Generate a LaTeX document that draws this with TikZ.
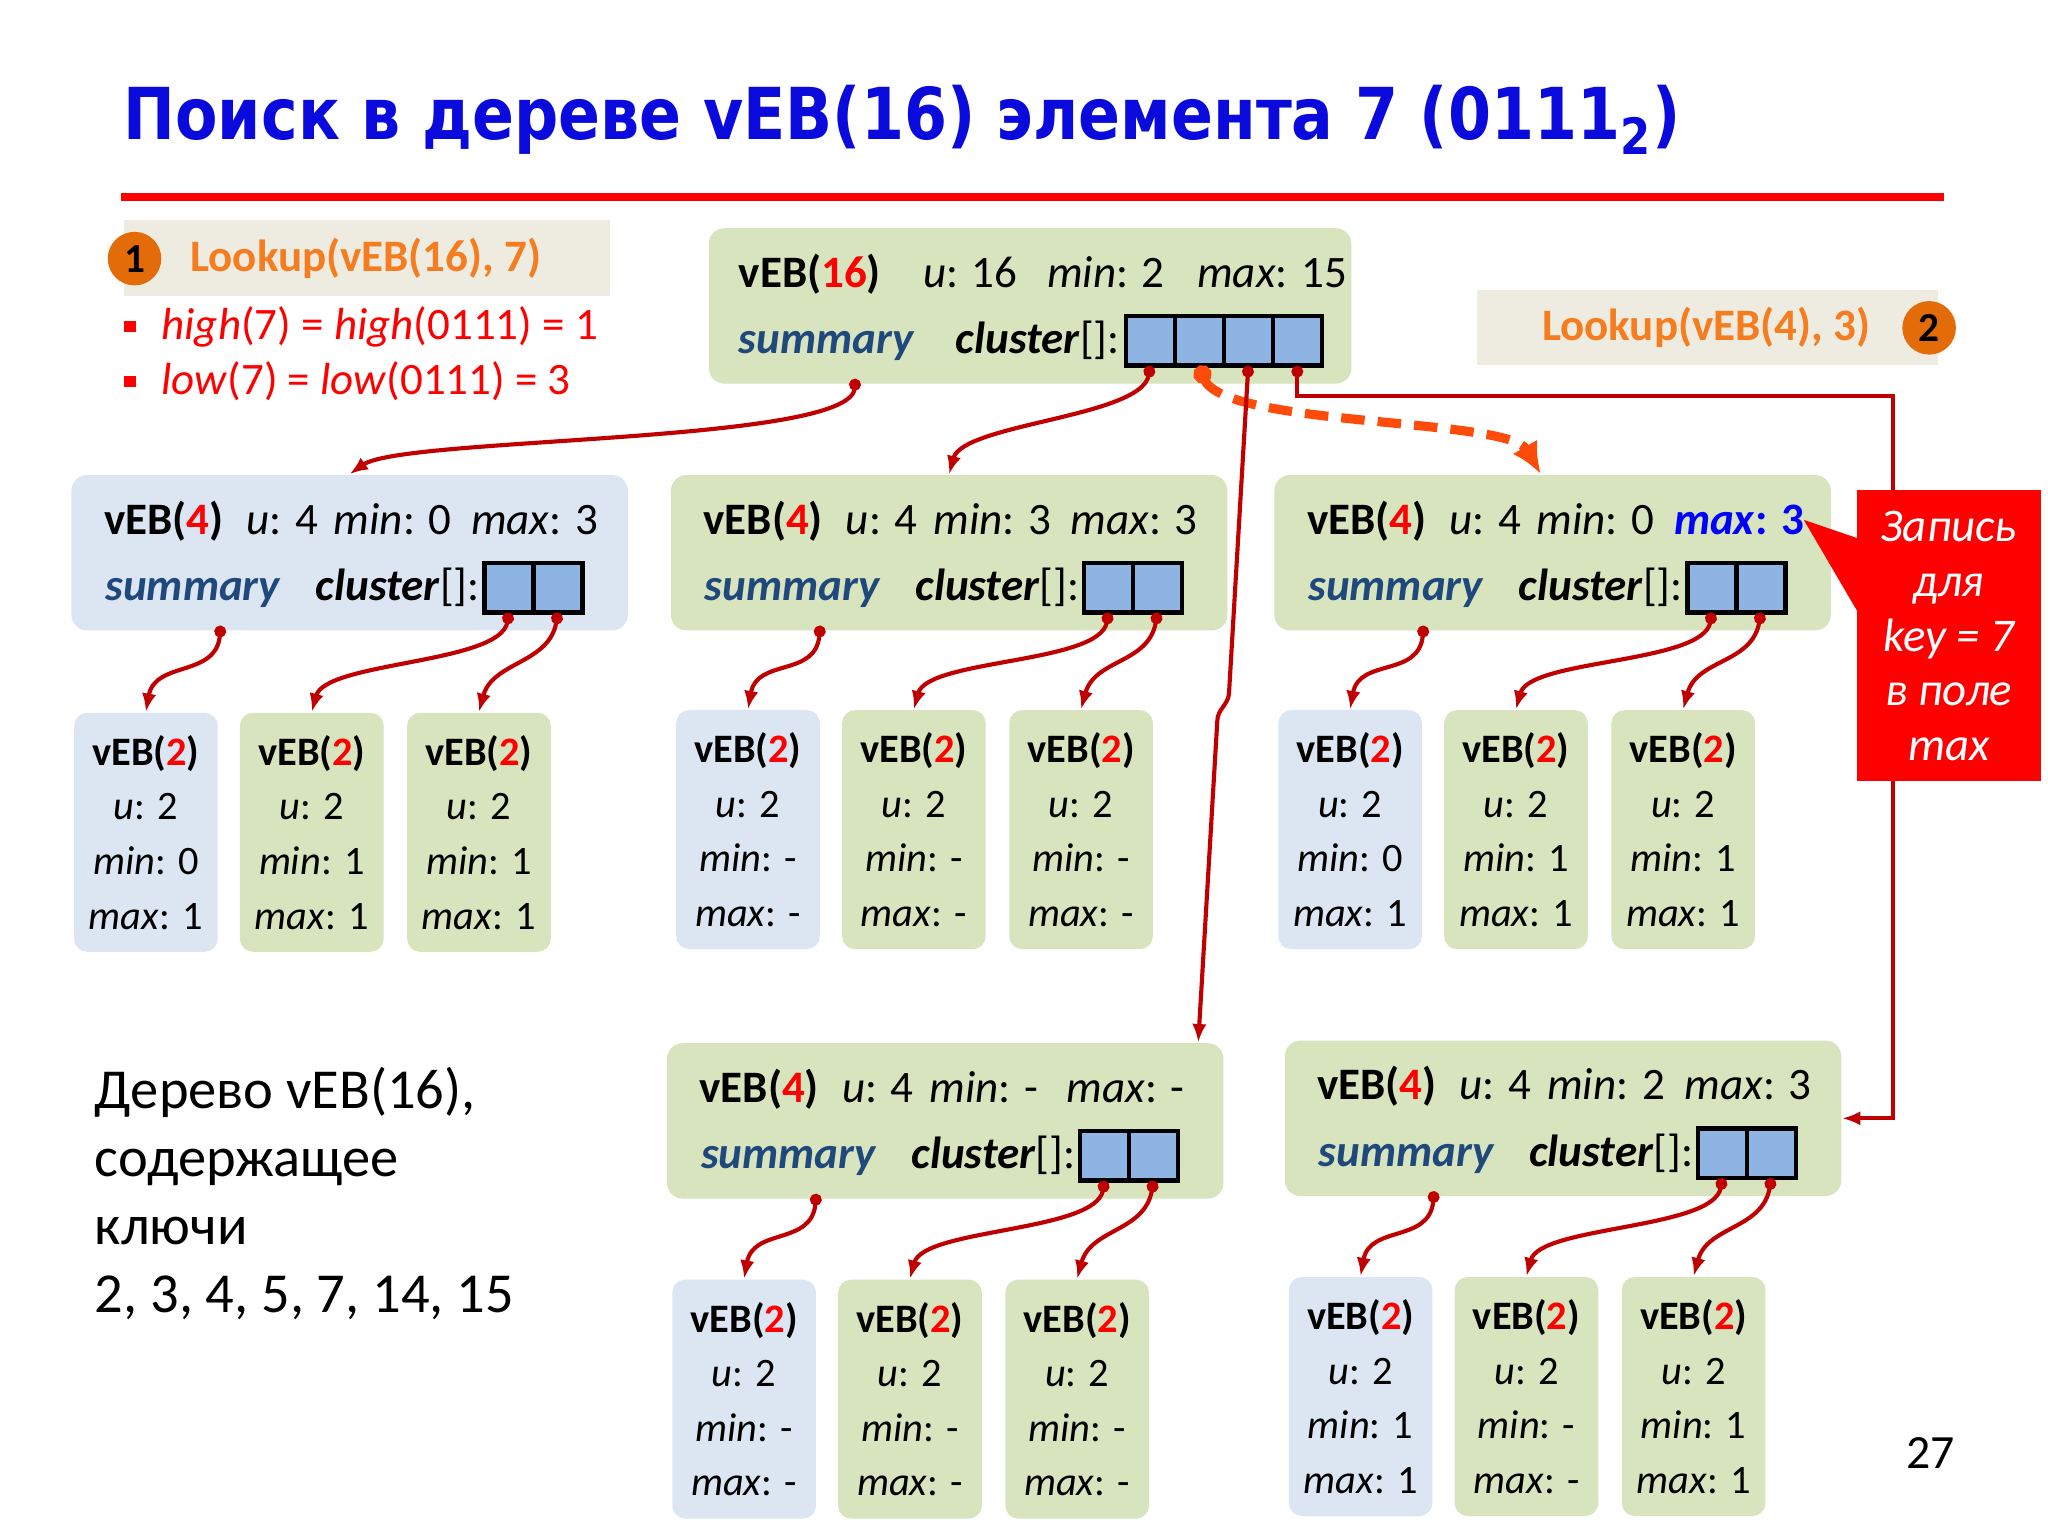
\documentclass[tikz,border=0pt]{standalone}
\usepackage{fontspec}
\usepackage{graphicx}
\setmainfont{Carlito}
\newfontfamily\titlefont{DejaVu Sans}
\usetikzlibrary{arrows.meta}
\definecolor{boxgreen}{HTML}{D7E4BD}
\definecolor{boxblue}{HTML}{DCE6F2}
\definecolor{cellblue}{HTML}{8DB4E2}
\definecolor{stepgray}{HTML}{EEECE1}
\definecolor{lookorange}{HTML}{F57C1F}
\definecolor{circorange}{HTML}{E36C09}
\definecolor{sumblue}{HTML}{1F497D}
\definecolor{numred}{HTML}{FF0000}
\definecolor{ptrred}{HTML}{C00000}
\definecolor{dashorange}{HTML}{FF4B0A}
\definecolor{titleblue}{HTML}{0A0ADC}
\definecolor{hlblue}{HTML}{0000FF}
% vEB(4) box: name, top left, fill, min, max field
\newcommand{\vebfour}[5]{%
  \node[bigbox,fill=#3] (#1) at (#2) {};
  \node[txt] (#1n) at ([shift={(25,-46)}]#1.north west) {\textbf{vEB(\textcolor{numred}{4})}};
  \node[txt] (#1u) at ([shift={(134,-46)}]#1.north west) {\textit{u}: 4};
  \node[txt] (#1mn) at ([shift={(201,-46)}]#1.north west) {\textit{min}: #4};
  \node[txt] (#1mx) at ([shift={(306,-46)}]#1.north west) {#5};
  \node[txt] (#1sum) at ([shift={(26,-97)}]#1.north west) {\textcolor{sumblue}{\textbf{\textit{summary}}}};
  \node[txt,anchor=base east] (#1cl) at ([shift={(314,-97)}]#1.north west) {\textbf{\textit{cluster}}[]:};
  \node[cell] (#1c1) at ([shift={(317,-68)}]#1.north west) {};
  \node[cell] (#1c2) at (#1c1.north east) {};
  \coordinate (#1s) at ([shift={(115,-116)}]#1.north west);
}
\begin{document}
\begin{tikzpicture}[x=0.1mm,y=0.1mm,
    txt/.style={anchor=base west,inner sep=0,font=\fontsize{9.8}{11.8}\selectfont},
    bigbox/.style={rectangle,rounded corners=1.2mm,anchor=north west,minimum width=42.6mm,minimum height=11.9mm,inner sep=0},
    smallbox/.style={rectangle,rounded corners=1mm,anchor=north west,minimum width=11mm,minimum height=18.3mm,inner sep=0,align=center,font=\fontsize{8.8}{11.9}\selectfont},
    cell/.style={draw=black,line width=1pt,fill=cellblue,minimum width=3.75mm,minimum height=3.8mm,inner sep=0,outer sep=0,anchor=north west},
    stepbox/.style={fill=stepgray,anchor=north west,inner sep=0},
    numcirc/.style={circle,fill=circorange,minimum size=4.1mm,inner sep=0,font=\bfseries\fontsize{9}{10}\selectfont},
    ptr/.style={draw=ptrred,line width=0.9pt,arrows={Circle[length=0.9mm]-Latex[length=1.4mm,width=1.1mm]}},
    ]
    \fill[white](0,0)rectangle(1568,-1176);
    % title
    \node[anchor=base west,inner sep=0,text=titleblue] (title) at (94,-107)
        {\resizebox{119.2mm}{\height}{\titlefont\bfseries\fontsize{15.6}{18}\selectfont Поиск в дереве vEB(16) элемента 7 (0111\textsubscript{2})}};
    \draw[numred,line width=1.8pt](93,-151)--(1488,-151);
    % step 1
    \node[stepbox,minimum width=37.2mm,minimum height=5.8mm] (s1) at (94,-168) {};
    \node[numcirc] (n1) at (103,-198) {1};
    \node[txt,text=lookorange,font=\bfseries\fontsize{9.8}{11.8}\selectfont] (l1) at (145,-208) {Lookup(vEB(16), 7)};
    \node[fill=numred,minimum size=0.9mm,inner sep=0] (q1) at (99.5,-250) {};
    \node[fill=numred,minimum size=0.9mm,inner sep=0] (q2) at (99.5,-292) {};
    \node[txt,text=numred] (hi) at (123,-260) {\textit{high}(7) = \textit{high}(0111) = 1};
    \node[txt,text=numred] (lo) at (123,-302) {\textit{low}(7) = \textit{low}(0111) = 3};
    % step 2
    \node[stepbox,minimum width=35.3mm,minimum height=5.8mm] (s2) at (1130,-221) {};
    \node[txt,text=lookorange,font=\bfseries\fontsize{9.8}{11.8}\selectfont] (l2) at (1180,-261) {Lookup(vEB(4), 3)};
    \node[numcirc] (n2) at (1477,-251) {2};
    % vEB(16)
    \node[bigbox,fill=boxgreen,minimum width=49.2mm] (top) at (542,-174) {};
    \node[txt] (tn) at ([shift={(23,-46)}]top.north west) {\textbf{vEB(\textcolor{numred}{16})}};
    \node[txt] (tu) at ([shift={(164,-46)}]top.north west) {\textit{u}: 16};
    \node[txt] (tmn) at ([shift={(259,-46)}]top.north west) {\textit{min}: 2};
    \node[txt] (tmx) at ([shift={(374,-46)}]top.north west) {\textit{max}: 15};
    \node[txt] (tsum) at ([shift={(23,-97)}]top.north west) {\textcolor{sumblue}{\textbf{\textit{summary}}}};
    \node[txt,anchor=base east] (tcl) at ([shift={(316,-97)}]top.north west) {\textbf{\textit{cluster}}[]:};
    \node[cell] (t1) at ([shift={(320,-68)}]top.north west) {};
    \foreach \i [count=\j from 2] in {1,2,3} \node[cell] (t\j) at (t\i.north east) {};
    \coordinate (ts) at ([shift={(113,-116)}]top.north west);
    % vEB(4)
    \vebfour{a}{54,-363}{boxblue}{0}{\textit{max}: 3}
    \vebfour{b}{513,-363}{boxgreen}{3}{\textit{max}: 3}
    \vebfour{c}{975,-363}{boxgreen}{0}{\textcolor{hlblue}{\textbf{\textit{max}: 3}}}
    \vebfour{d}{510,-798}{boxgreen}{-}{\textit{max}: -}
    \vebfour{e}{983,-796}{boxgreen}{2}{\textit{max}: 3}
    % vEB(2)
    \foreach \n/\x/\y/\col/\mn/\mx in {a1/56/545/boxblue/0/1,a2/183/545/boxgreen/1/1,a3/311/545/boxgreen/1/1,
        b1/517/543/boxblue/-/-,b2/644/543/boxgreen/-/-,b3/772/543/boxgreen/-/-,
        c1/978/543/boxblue/0/1,c2/1105/543/boxgreen/1/1,c3/1233/543/boxgreen/1/1,
        d1/514/979/boxblue/-/-,d2/641/979/boxgreen/-/-,d3/769/979/boxgreen/-/-,
        e1/986/977/boxblue/1/1,e2/1113/977/boxgreen/-/-,e3/1241/977/boxgreen/1/1}
        \node[smallbox,fill=\col] (\n) at (\x,-\y) {\textbf{vEB(\textcolor{numred}{2})}\\\textit{u}: 2\\\textit{min}: \mn\\\textit{max}: \mx};
    % pointers
    \foreach \bx in {a,b,c,d,e}{
        \draw[ptr] (\bx s) to[out=-95,in=80,distance=4mm] (\bx1.north);
        \draw[ptr] (\bx c1.south) to[out=-100,in=75,distance=4mm] (\bx2.north);
        \draw[ptr] (\bx c2.south) to[out=-100,in=75,distance=4mm] (\bx3.north);
    }
    \draw[ptr] (ts) to[out=-95,in=35,distance=5mm] (a.north);
    \draw[ptr] (t1.south) to[out=-100,in=75,distance=4mm] (b.north);
    \draw[dashorange,line width=2pt,dash pattern=on 1.8mm off 1mm,arrows={Circle[length=1.4mm]-Latex[length=2.4mm,width=2.2mm]}]
        (t2.south) to[out=-70,in=120,distance=5mm] ([xshift=-0.9mm]c.north);
    \coordinate (dt) at ([xshift=-2mm]d.north east);
    \draw[ptr] (t3.south) -- (941,-530) to[out=-90,in=90] (932,-552) -- (dt);
    \draw[ptr] (t4.south) |- (1449,-303) |- (e.east);
    % note
    \fill[numred](1422,-375)rectangle(1563,-598);
    \fill[numred](1422,-412)--(1381,-398)--(1422,-468)--cycle;
    \node[align=center,text=white,font=\itshape\fontsize{10.2}{11.9}\selectfont] (note) at (1492,-487) {Запись\\для\\key = 7\\в поле\\max};
    \node[txt,align=left,font=\fontsize{12.3}{14.8}\selectfont] (keys) at (72,-1005) {Дерево vEB(16),\\содержащее\\ключи\\2, 3, 4, 5, 7, 14, 15};
    \node[txt,font=\fontsize{10.4}{12}\selectfont] (pg) at (1459,-1124) {27};
\end{tikzpicture}
\end{document}
